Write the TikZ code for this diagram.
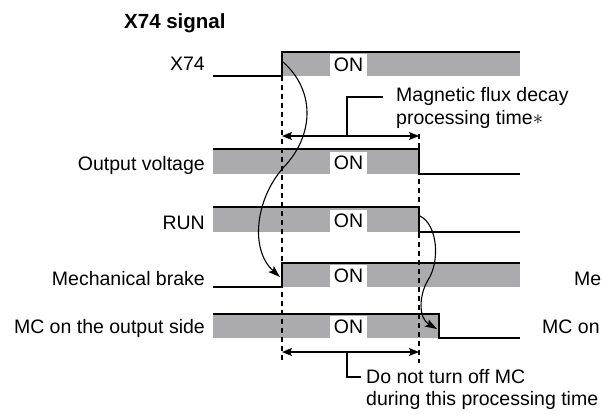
\documentclass[tikz,border=0pt]{standalone}
\usepackage{fontspec}
\setmainfont{Liberation Sans}
\usetikzlibrary{arrows.meta}
\definecolor{band}{RGB}{171,171,173}
\begin{document}
\begin{tikzpicture}[x=1bp,y=-1bp,
  txt/.style={inner sep=0pt, font=\fontsize{19.5bp}{22bp}\selectfont},
  lbl/.style={txt, anchor=base east},
  note/.style={txt, anchor=base west},
  onbox/.style={txt, fill=white, minimum width=37bp, minimum height=22bp},
  sig/.style={line width=1.3bp, line join=miter},
  guide/.style={dashed, dash pattern=on 5bp off 4bp, line width=1.1bp},
  span/.style={line width=1.2bp, {Stealth[length=10bp,width=8bp,inset=2bp]}-{Stealth[length=10bp,width=8bp,inset=2bp]}},
  leader/.style={line width=1.1bp},
  cause/.style={line width=1.1bp, -{Stealth[length=12bp,width=8bp,inset=2.5bp]}}]
\useasboundingbox (0,0) rectangle (602,413);

% title
\node[anchor=base west, inner sep=0pt, font=\bfseries\fontsize{20.5bp}{24bp}\selectfont] (title) at (124,28) {X74 signal};

% row labels
\node[lbl] (lx74) at (205,70) {X74};
\node[lbl] (lov)  at (205,170) {Output voltage};
\node[lbl] (lrun) at (205,229) {RUN};
\node[lbl] (lmb)  at (205,285) {Mechanical brake};
\node[lbl] (lmc)  at (205,333) {MC on the output side};

% right-edge labels (cut off in the original)
\node[note] (rmb) at (574,285) {Me};
\node[note] (rmc) at (542,333) {MC on};

% X74
\fill[band] (282,52) rectangle (520,76);
\draw[sig] (213,76) -- (282,76) -- (282,52) -- (520,52);
\node[onbox] (on1) at (348.5,65) {ON};

% Output voltage
\fill[band] (213,149) rectangle (419,174);
\draw[sig] (213,149) -- (419,149) -- (419,174) -- (520,174);
\node[onbox] (on2) at (348.5,163) {ON};

% RUN
\fill[band] (213,207) rectangle (419,232);
\draw[sig] (213,207) -- (419,207) -- (419,232) -- (520,232);
\node[onbox] (on3) at (348.5,221) {ON};

% Mechanical brake
\fill[band] (282,263) rectangle (520,287);
\draw[sig] (213,287) -- (282,287) -- (282,263) -- (520,263);
\node[onbox] (on4) at (348.5,276) {ON};

% MC on the output side
\fill[band] (213,314) rectangle (439,338);
\draw[sig] (213,314) -- (439,314) -- (439,338) -- (520,338);
\node[onbox] (on5) at (348.5,327) {ON};

% dashed guides
\draw[guide] (282,76) -- (282,360);
\draw[guide] (419,134) -- (419,363);

% magnetic flux decay span
\coordinate (a1) at (282,136);
\coordinate (a2) at (419,136);
\draw[span] (a1) -- (a2);
\node[note] (mf1) at (396,101) {Magnetic flux decay};
\node[note] (mf2) at (396,124) {processing time$\ast$};
\draw[leader] (347,136) -- (347,97) -- (383,97);

% do not turn off MC span
\coordinate (b1) at (282,352);
\coordinate (b2) at (419,352);
\draw[span] (b1) -- (b2);
\node[note] (dn1) at (366,383) {Do not turn off MC};
\node[note] (dn2) at (366,405) {during this processing time};
\draw[leader] (347,352) -- (347,377) -- (361,377);

% causal curves
\coordinate (c1s) at (283,62);
\coordinate (c1e) at (280,277);
\draw[cause] (c1s) .. controls (315,90) and (315,135) .. (283,168)
  .. controls (255,200) and (250,250) .. (c1e);
\coordinate (c2s) at (420,216);
\coordinate (c2e) at (437,329);
\draw[cause] (c2s) .. controls (438,225) and (440,262) .. (428,280)
  .. controls (419,295) and (418,318) .. (c2e);
\end{tikzpicture}
\end{document}
